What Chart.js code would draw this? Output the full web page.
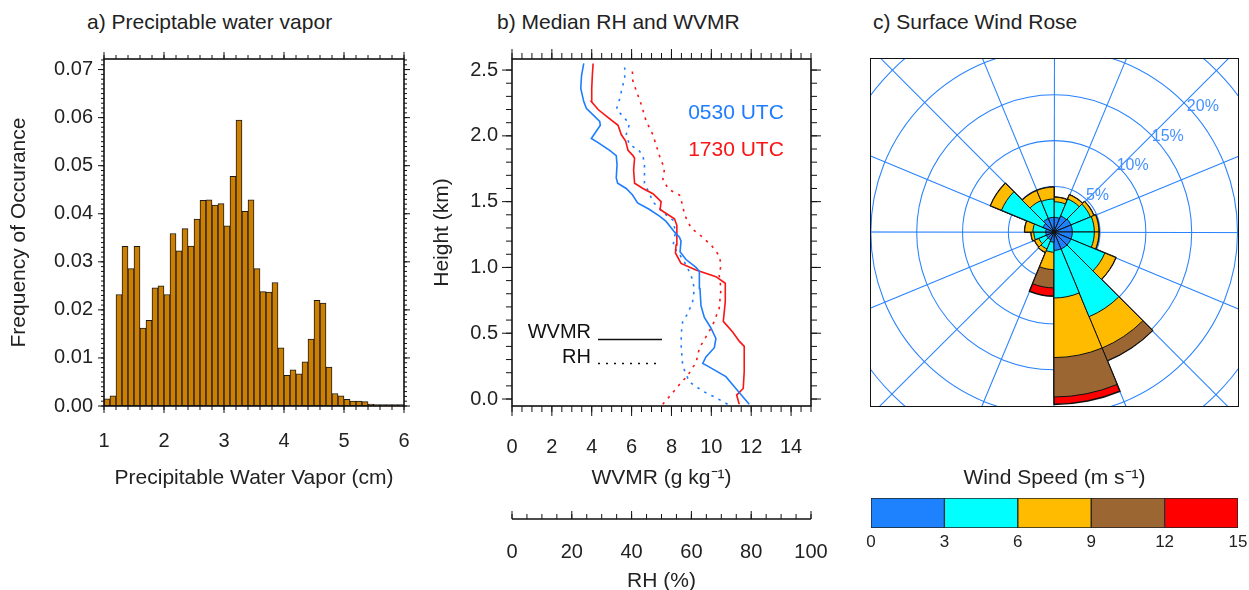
<!DOCTYPE html>
<html>
<head>
<meta charset="utf-8">
<script src="https://cdn.jsdelivr.net/npm/chart.js@4.4.0/dist/chart.umd.min.js"></script>
<style>
  html, body { margin: 0; padding: 0; background: #fff; overflow: hidden; }
  #page { position: relative; width: 1249px; height: 590px; overflow: hidden; font-family: "Liberation Sans", Arial, sans-serif; }
  canvas { position: absolute; }
  .ttl { position: absolute; font-size: 21px; line-height: 24px; color: #222; white-space: nowrap; }
  #roseBox { position: absolute; left: 871px; top: 59px; width: 367px; height: 347px; overflow: hidden; }
  #roseFrame { position: absolute; left: 870px; top: 58px; width: 367px; height: 347px; border: 1.5px solid #111; pointer-events: none; }
</style>
</head>
<body>
<div id="page">
  <div class="ttl" style="left:87px;top:10px">a) Preciptable water vapor</div>
  <div class="ttl" style="left:497px;top:10px">b) Median RH and WVMR</div>
  <div class="ttl" style="left:873px;top:10px">c) Surface Wind Rose</div>
  <canvas id="pwv" width="430" height="500" style="left:0;top:0"></canvas>
  <canvas id="prof" width="400" height="594" style="left:430px;top:0"></canvas>
  <canvas id="cbar" width="389" height="125" style="left:860px;top:465px"></canvas>
  <div id="roseBox"><canvas id="rose" width="550" height="550" style="left:-92px;top:-102px"></canvas></div>
  <div id="roseFrame"></div>
</div>
<script>
// ---- a) precipitable water vapor histogram (0.1 cm bins from 1 cm)
var pwvBinLow = 1.0, pwvBinWidth = 0.1
var pwvFreq = [0.0015,0.0021,0.0232,0.0332,0.0286,0.0332,0.0162,0.0178,0.0246,0.0250,
  0.0232,0.0359,0.0323,0.0369,0.0333,0.0389,0.0428,0.0429,0.0418,0.0421,
  0.0375,0.0478,0.0595,0.0405,0.0429,0.0286,0.0238,0.0237,0.0257,0.0121,
  0.0064,0.0075,0.0067,0.0092,0.0139,0.0220,0.0214,0.0081,0.0026,0.0021,
  0.0014,0.0010,0.0010,0.0009,0.0004,0.0003,0.0003,0.0003,0.0003,0.0003]
var pwvTicks = [1,2,3,4,5,6]
var freqTicks = [0,0.01,0.02,0.03,0.04,0.05,0.06,0.07]

// ---- b) median profiles (height km)
var wvmr0530Hgt = [-0.04,0.05,0.08,0.17,0.25,0.27,0.32,0.39,0.46,0.54,0.62,0.71,0.84,0.97,1.00,1.06,1.12,1.20,1.23,1.27,1.35,1.39,1.44,1.49,1.55,1.60,1.64,1.68,1.78,1.85,1.89,1.95,1.98,2.08,2.11,2.21,2.26,2.36,2.46,2.55]
var wvmr0530 = [11.9,11.4,11.23,10.73,9.82,9.57,9.73,10.15,10.23,9.98,9.65,9.48,9.43,9.4,9.23,8.73,8.43,8.48,8.4,8.15,7.73,7.4,6.9,6.3,6.05,5.73,5.3,5.23,5.27,5.23,4.9,4.3,3.98,4.43,4.4,3.73,3.6,3.45,3.49,3.6]
var wvmr1730Hgt = [-0.04,0.03,0.08,0.21,0.40,0.44,0.51,0.59,0.74,0.88,0.93,0.98,1.03,1.11,1.17,1.32,1.37,1.44,1.50,1.56,1.60,1.64,1.74,1.83,1.85,1.89,1.96,2.01,2.08,2.15,2.20,2.26,2.36,2.46,2.55]
var wvmr1730 = [11.4,11.27,11.6,11.65,11.65,11.4,11.07,10.6,10.7,10.7,10.23,9.23,8.48,8.2,8.23,8.27,8.15,7.43,7.48,7.07,6.57,6.15,6.1,6.15,6.07,5.82,5.7,5.48,5.32,4.73,4.32,3.98,4.0,4.03,4.07]
var rh0530Hgt = [-0.04,0.01,0.06,0.13,0.25,0.39,0.50,0.59,0.65,0.74,0.84,0.94,1.04,1.12,1.16,1.27,1.36,1.42,1.50,1.56,1.64,1.78,1.85,1.90,1.93,2.01,2.09,2.15,2.20,2.28,2.37,2.44,2.52]
var rh0530 = [72.1,68.2,63.8,59.3,57.1,56.6,56.6,57.1,58.8,60.4,61.0,59.9,57.7,55.4,53.8,54.7,53.8,50.4,47.1,46.0,44.3,44.3,43.8,42.1,39.3,38.2,39.3,37.1,34.9,36.0,36.9,37.7,37.7]
var rh1730Hgt = [-0.04,0.02,0.11,0.18,0.28,0.39,0.45,0.56,0.69,0.84,0.94,1.02,1.09,1.17,1.25,1.30,1.40,1.47,1.55,1.59,1.66,1.75,1.85,2.01,2.11,2.24,2.34,2.42,2.52]
var rh1730 = [50.4,52.7,56.0,58.8,61.6,62.7,64.3,67.1,69.3,69.9,69.3,69.9,69.3,66.6,62.7,59.9,57.7,57.1,56.0,52.7,50.4,51.0,49.3,47.1,44.9,43.2,41.6,40.4,40.2]
var hgtTicks = [0,0.5,1.0,1.5,2.0,2.5]
var wvmrTicks = [0,2,4,6,8,10,12,14]
var rhTicks = [0,20,40,60,80,100]

// ---- c) wind rose, % per 22.5 deg sector (clockwise from N) and speed bin
var roseDirs = ['N','NNE','NE','ENE','E','ESE','SE','SSE','S','SSW','SW','WSW','W','WNW','NW','NNW']
var wind0to3   = [1.6,1.9,2.0,2.0,2.0,2.0,2.0,2.0,1.1,0.9,0.9,0.9,0.9,1.3,1.6,1.6]
var wind3to6   = [1.7,2.0,2.3,2.4,2.4,4.0,8.0,5.2,1.1,1.1,0.9,1.3,1.4,4.9,2.1,2.0]
var wind6to9   = [0.5,0.5,0.4,0.5,0.5,1.3,3.7,6.5,1.9,0.4,0.5,0.3,0.9,1.3,1.2,1.3]
var wind9to12  = [0,0,0,0,0,0,1.5,4.3,2.0,0,0,0,0,0,0,0]
var wind12to15 = [0,0,0,0,0,0,0,0.8,0.9,0,0,0,0,0,0,0]
var ringValues = [5,10,15,20,25,30]
var ringLabels = [5,10,15,20]
var speedEdges = [0,3,6,9,12,15]
var speedColors = ['#1e82ff','#00ffff','#ffbb00','#9c6633','#ff0000']

Chart.defaults.font.family = '"Liberation Sans", Arial, sans-serif'
Chart.defaults.font.size = 20
Chart.defaults.color = '#222'

var blue = 'rgb(30,125,255)', red = 'rgb(250,20,20)'

function setTicks(arr){ return function(s){ s.ticks = arr.map(function(v){ return {value: v} }) } }

function drawTicks(ctx, scale, a, side, from, to, step, len){
  var n = Math.round((to - from) / step)
  ctx.beginPath()
  for (var i = 0; i <= n; i++) {
    var p = scale.getPixelForValue(from + i * step)
    if (side === 'bottom') { ctx.moveTo(p, a.bottom); ctx.lineTo(p, a.bottom + len) }
    else if (side === 'top') { ctx.moveTo(p, a.top); ctx.lineTo(p, a.top - len) }
    else if (side === 'left') { ctx.moveTo(a.left, p); ctx.lineTo(a.left - len, p) }
    else { ctx.moveTo(a.right, p); ctx.lineTo(a.right + len, p) }
  }
  ctx.stroke()
}

// hidden tick marks only used to push the labels away from the frame
function gap(len){ return { display: false, drawTicks: true, tickLength: len, tickColor: 'rgba(0,0,0,0)' } }
var noGrid = { display: false, drawTicks: false }

// ---------------- panel a
var pwvFrame = {
  id: 'pwvFrame',
  afterDraw: function(chart){
    var ctx = chart.ctx, a = chart.chartArea, x = chart.scales.x, y = chart.scales.y
    ctx.save()
    ctx.strokeStyle = '#111'
    ctx.lineWidth = 1
    ;['bottom','top'].forEach(function(s){
      drawTicks(ctx, x, a, s, 1, 6, 0.2, 4)
      drawTicks(ctx, x, a, s, 1, 6, 1, 7)
    })
    ;['left','right'].forEach(function(s){
      drawTicks(ctx, y, a, s, 0, 0.072, 0.001, 3)
      drawTicks(ctx, y, a, s, 0, 0.07, 0.01, 6)
    })
    ctx.lineWidth = 1.6
    ctx.strokeRect(a.left, a.top, a.width, a.height)
    ctx.restore()
  }
}

new Chart(document.getElementById('pwv'), {
  type: 'bar',
  data: {
    datasets: [{
      data: pwvFreq.map(function(f, i){ return { x: pwvBinLow + (i + 0.5) * pwvBinWidth, y: f } }),
      backgroundColor: '#cd8000',
      borderColor: '#1a1a1a',
      borderWidth: 1,
      borderSkipped: false,
      barPercentage: 1,
      categoryPercentage: 1
    }]
  },
  options: {
    responsive: false,
    animation: false,
    layout: { padding: { top: 59, right: 26, left: 0, bottom: 0 } },
    plugins: { legend: { display: false }, tooltip: { enabled: false } },
    scales: {
      x: {
        type: 'linear', min: 1, max: 6, offset: false,
        grid: gap(23), border: { display: false },
        afterBuildTicks: setTicks(pwvTicks),
        afterFit: function(s){ s.height = 94 },
        ticks: { padding: 0 },
        title: { display: true, text: 'Precipitable Water Vapor (cm)', font: { size: 21 }, padding: { top: 0, bottom: 9 } }
      },
      y: {
        min: 0, max: 0.0722,
        grid: noGrid, border: { display: false },
        afterBuildTicks: setTicks(freqTicks),
        afterFit: function(s){ s.width = 104 },
        ticks: { padding: 11, callback: function(v){ return v.toFixed(2) } },
        title: { display: true, text: 'Frequency of Occurance', font: { size: 21 }, padding: { top: 7, bottom: 0 } }
      }
    }
  },
  plugins: [pwvFrame]
})

// ---------------- panel b
function pts(xs, hs){ return xs.map(function(v, i){ return { x: v, y: hs[i] } }) }

var profExtras = {
  id: 'profExtras',
  afterDraw: function(chart){
    var ctx = chart.ctx, a = chart.chartArea, x = chart.scales.x, y = chart.scales.y, r = chart.scales.xRH
    ctx.save()
    ctx.strokeStyle = '#111'
    ctx.lineWidth = 1
    ;['bottom','top'].forEach(function(s){
      drawTicks(ctx, x, a, s, 0, 15, 0.5, 6)
      drawTicks(ctx, x, a, s, 0, 14, 2, 10)
    })
    ;['left','right'].forEach(function(s){
      drawTicks(ctx, y, a, s, 0, 2.5, 0.1, 6)
      drawTicks(ctx, y, a, s, 0, 2.5, 0.5, 10)
    })
    ctx.lineWidth = 1.6
    ctx.strokeRect(a.left, a.top, a.width, a.height)

    // separate RH axis
    var yl = r.top + 19
    ctx.lineWidth = 1.3
    ctx.beginPath()
    ctx.moveTo(r.getPixelForValue(0), yl)
    ctx.lineTo(r.getPixelForValue(100), yl)
    ctx.stroke()
    ctx.lineWidth = 1
    drawTicks(ctx, r, { top: yl, bottom: yl }, 'top', 0, 100, 5, 5)
    drawTicks(ctx, r, { top: yl, bottom: yl }, 'top', 0, 100, 20, 8)

    // time labels
    ctx.font = '21px "Liberation Sans", Arial, sans-serif'
    ctx.textAlign = 'center'
    ctx.textBaseline = 'middle'
    ctx.fillStyle = blue
    ctx.fillText('0530 UTC', a.left + 224, 113)
    ctx.fillStyle = red
    ctx.fillText('1730 UTC', a.left + 224, 150)

    // line style legend
    ctx.font = '20px "Liberation Sans", Arial, sans-serif'
    ctx.fillStyle = '#111'
    ctx.textAlign = 'right'
    ctx.fillText('WVMR', a.left + 79, 332)
    ctx.fillText('RH', a.left + 79, 357)
    ctx.lineWidth = 1.4
    ctx.beginPath()
    ctx.moveTo(a.left + 86, 339.5)
    ctx.lineTo(a.left + 150, 339.5)
    ctx.stroke()
    ctx.setLineDash([2, 6])
    ctx.beginPath()
    ctx.moveTo(a.left + 86, 363.5)
    ctx.lineTo(a.left + 150, 363.5)
    ctx.stroke()
    ctx.restore()
  }
}

var lineBase = { showLine: true, pointRadius: 0, borderWidth: 1.6, tension: 0, fill: false }
function ds(extra){ return Object.assign({}, lineBase, extra) }

new Chart(document.getElementById('prof'), {
  type: 'scatter',
  data: {
    datasets: [
      ds({ data: pts(wvmr0530, wvmr0530Hgt), borderColor: blue, xAxisID: 'x' }),
      ds({ data: pts(wvmr1730, wvmr1730Hgt), borderColor: red, xAxisID: 'x' }),
      ds({ data: pts(rh0530, rh0530Hgt), borderColor: blue, borderDash: [2.5, 5.5], xAxisID: 'xRH' }),
      ds({ data: pts(rh1730, rh1730Hgt), borderColor: red, borderDash: [2.5, 5.5], xAxisID: 'xRH' })
    ]
  },
  options: {
    responsive: false,
    animation: false,
    layout: { padding: { top: 59, right: 19, left: 0, bottom: 0 } },
    plugins: { legend: { display: false }, tooltip: { enabled: false } },
    scales: {
      x: {
        type: 'linear', position: 'bottom', weight: 0, min: 0, max: 15,
        grid: gap(29), border: { display: false },
        afterBuildTicks: setTicks(wvmrTicks),
        afterFit: function(s){ s.height = 94 },
        ticks: { padding: 0 },
        title: { display: true, text: 'WVMR (g kg⁻¹)', font: { size: 21 }, padding: { top: 0, bottom: 9 } }
      },
      xRH: {
        type: 'linear', position: 'bottom', weight: 1, min: 0, max: 100,
        grid: gap(40), border: { display: false },
        afterBuildTicks: setTicks(rhTicks),
        afterFit: function(s){ s.height = 94 },
        ticks: { padding: 0 },
        title: { display: true, text: 'RH (%)', font: { size: 21 }, padding: { top: 0, bottom: 0 } }
      },
      y: {
        type: 'linear', min: -0.053, max: 2.584,
        grid: noGrid, border: { display: false },
        afterBuildTicks: setTicks(hgtTicks),
        afterFit: function(s){ s.width = 82 },
        ticks: { padding: 14, callback: function(v){ return v.toFixed(1) } },
        title: { display: true, text: 'Height (km)', font: { size: 21 }, padding: { top: 0, bottom: 0 } }
      }
    }
  },
  plugins: [profExtras]
})

// ---------------- panel c, wind rose
var roseBins = [wind0to3, wind3to6, wind6to9, wind9to12, wind12to15]
var running = roseDirs.map(function(){ return 0 })
var roseCum = roseBins.map(function(b){
  running = running.map(function(v, i){ return v + b[i] })
  return running
})
var gridBlue = 'rgb(40,130,255)'

// grid lines under the petals: rings at each 5 % and a spoke on every sector edge
var roseGrid = {
  id: 'roseGrid',
  beforeDatasetsDraw: function(chart){
    var ctx = chart.ctx, s = chart.scales.r
    var cx = s.xCenter + 0.2, cy = s.yCenter + 0.3
    ctx.save()
    ctx.strokeStyle = gridBlue
    ctx.lineWidth = 1.05
    ringValues.forEach(function(v){
      ctx.beginPath()
      ctx.arc(cx, cy, s.getDistanceFromCenterForValue(v), 0, Math.PI * 2)
      ctx.stroke()
    })
    roseDirs.forEach(function(d, i){
      var a = s.getIndexAngle(i) - Math.PI / 2 + 0.0015
      var R = s.drawingArea
      ctx.beginPath()
      ctx.moveTo(cx, cy)
      ctx.lineTo(cx + R * Math.cos(a), cy + R * Math.sin(a))
      ctx.stroke()
    })
    ctx.restore()
  }
}

var roseLabels = {
  id: 'roseLabels',
  afterDraw: function(chart){
    var ctx = chart.ctx, s = chart.scales.r
    var ang = 50 * Math.PI / 180
    ctx.save()
    ctx.font = '16px "Liberation Sans", Arial, sans-serif'
    ctx.fillStyle = 'rgb(70,145,255)'
    ctx.textAlign = 'center'
    ctx.textBaseline = 'middle'
    ringLabels.forEach(function(v){
      var d = s.getDistanceFromCenterForValue(v) + 11
      ctx.fillText(v + '%', s.xCenter + d * Math.sin(ang), s.yCenter - d * Math.cos(ang))
    })
    ctx.restore()
  }
}

new Chart(document.getElementById('rose'), {
  type: 'polarArea',
  data: {
    labels: roseDirs,
    datasets: roseCum.map(function(c, i){
      return { data: c, backgroundColor: speedColors[i], borderColor: '#111', borderWidth: i === roseCum.length - 1 ? 1.6 : 1, borderJoinStyle: 'round' }
    })
  },
  options: {
    responsive: false,
    animation: false,
    layout: { padding: 0 },
    plugins: { legend: { display: false }, tooltip: { enabled: false } },
    scales: {
      r: {
        min: 0, max: 30, startAngle: 0,
        ticks: { display: false, stepSize: 5 },
        grid: { display: false },
        border: { display: false },
        angleLines: { display: false },
        pointLabels: { display: false }
      }
    }
  },
  plugins: [roseGrid, roseLabels]
})

// ---------------- colour bar for wind speed
var cbarTitle = {
  id: 'cbarTitle',
  afterDraw: function(chart){
    var ctx = chart.ctx, a = chart.chartArea
    ctx.save()
    ctx.font = '21px "Liberation Sans", Arial, sans-serif'
    ctx.fillStyle = '#222'
    ctx.textAlign = 'center'
    ctx.textBaseline = 'middle'
    ctx.fillText('Wind Speed (m s⁻¹)', (a.left + a.right) / 2, 13)
    ctx.restore()
  }
}

new Chart(document.getElementById('cbar'), {
  type: 'bar',
  data: {
    labels: [''],
    datasets: speedColors.map(function(col, i){
      return {
        data: [[speedEdges[i], speedEdges[i + 1]]],
        backgroundColor: col, borderColor: '#222', borderWidth: 1, borderSkipped: false,
        barPercentage: 1, categoryPercentage: 1, grouped: false
      }
    })
  },
  options: {
    indexAxis: 'y',
    responsive: false,
    animation: false,
    layout: { padding: { left: 11, right: 11, top: 33, bottom: 0 } },
    plugins: { legend: { display: false }, tooltip: { enabled: false } },
    scales: {
      x: {
        min: 0, max: 15,
        grid: gap(4), border: { display: false },
        afterBuildTicks: setTicks(speedEdges),
        afterFit: function(s){ s.height = 62 },
        ticks: { padding: 0, font: { size: 17 } }
      },
      y: { display: false }
    }
  },
  plugins: [cbarTitle]
})
</script>
</body>
</html>
